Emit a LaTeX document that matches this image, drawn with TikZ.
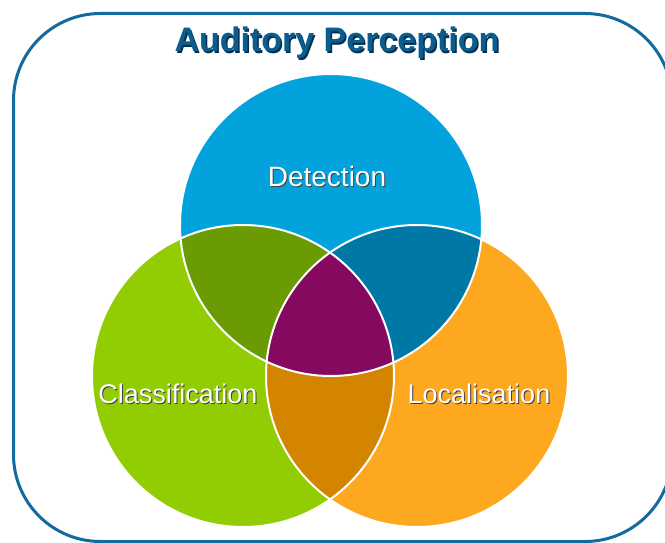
\documentclass[tikz,border=0pt]{standalone}
\usepackage{fontspec}
\setmainfont{Liberation Sans}
\definecolor{frameblue}{HTML}{126A9E}
\definecolor{titleblue}{HTML}{0B5D8F}
\definecolor{titleshade}{HTML}{062F4A}
\definecolor{detblue}{HTML}{02A3DD}
\definecolor{clsgreen}{HTML}{92CC02}
\definecolor{locorange}{HTML}{FDA81F}
\definecolor{detcls}{HTML}{6A9B02}
\definecolor{detloc}{HTML}{0078A5}
\definecolor{clsloc}{HTML}{D38500}
\definecolor{allthree}{HTML}{860960}
\begin{document}
\begin{tikzpicture}[x=1pt, y=-1pt,
    setlabel/.style={anchor=base, text=white, inner sep=0pt,
        font=\fontsize{27}{27}\selectfont},
    setshade/.style={setlabel, text=black!75},
    titletext/.style={anchor=base, text=titleblue, inner sep=0pt,
        font=\fontsize{34}{34}\selectfont\bfseries}]
    \useasboundingbox (0,0) rectangle (665,543);
    \draw[frameblue, line width=3pt, rounded corners=87pt] (13.5,13.5) rectangle (672,541.5);

    \coordinate (det) at (331,225);
    \coordinate (cls) at (243,376);
    \coordinate (loc) at (417,376);

    % the three sets
    \fill[detblue] (det) circle [radius=151pt];
    \fill[clsgreen] (cls) circle [radius=151pt];
    \fill[locorange] (loc) circle [radius=151pt];
    % overlaps
    \begin{scope}
        \clip (det) circle [radius=151pt];
        \fill[detcls] (cls) circle [radius=151pt];
        \fill[detloc] (loc) circle [radius=151pt];
    \end{scope}
    \begin{scope}
        \clip (cls) circle [radius=151pt];
        \fill[clsloc] (loc) circle [radius=151pt];
    \end{scope}
    \begin{scope}
        \clip (det) circle [radius=151pt];
        \clip (cls) circle [radius=151pt];
        \fill[allthree] (loc) circle [radius=151pt];
    \end{scope}
    \foreach \c in {det,cls,loc}
        \draw[white, line width=2pt] (\c) circle [radius=151pt];

    \node[titletext, text=titleshade] (title-sh) at (338.5,53.5) {Auditory Perception};
    \node[titletext] (title) at (337,52) {Auditory Perception};

    \node[setshade, font=\fontsize{28}{28}\selectfont] (det-sh) at (328,187) {Detection};
    \node[setlabel, font=\fontsize{28}{28}\selectfont] (det-lbl) at (327,186) {Detection};
    \node[setshade] (cls-sh) at (179,404) {Classification};
    \node[setlabel] (cls-lbl) at (178,403) {Classification};
    \node[setshade] (loc-sh) at (480,404) {Localisation};
    \node[setlabel] (loc-lbl) at (479,403) {Localisation};
\end{tikzpicture}
\end{document}
